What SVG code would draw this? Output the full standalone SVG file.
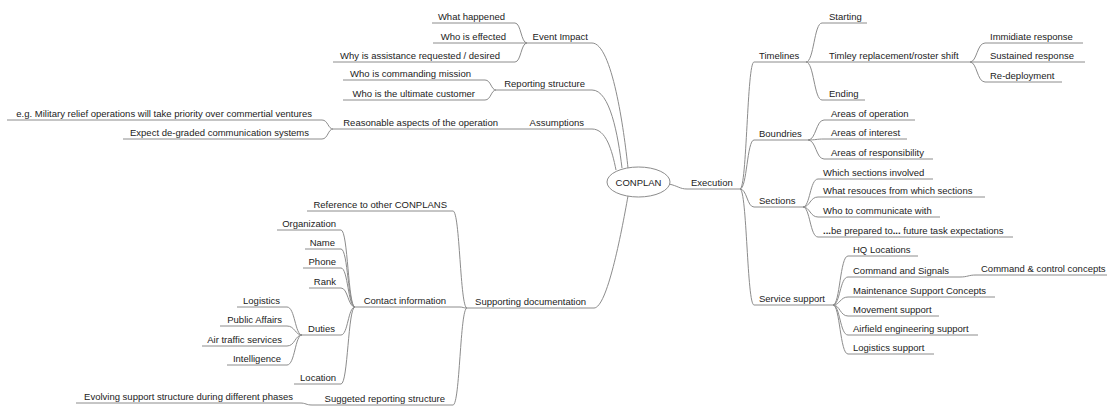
<svg xmlns="http://www.w3.org/2000/svg" width="1107" height="406" viewBox="0 0 1107 406">
  <style>
    .t { font-family: "Liberation Sans", Arial, sans-serif; font-size: 9.5px; fill: #222; }
    .r { text-anchor: end; }
    .u, .e { fill: none; stroke: #8c8c8c; stroke-width: 1; }
    .b { font-weight: bold; }
  </style>
  <rect width="1107" height="406" fill="#fff"/>

  <!-- connectors between nodes -->
  <g id="connectors" class="e">
    <!-- root -->
    <path d="M669,184 C678,186 680,189 687,189"/>
    <path d="M592,43 C612,43 624,130 628,168"/>
    <path d="M592,90 C610,90 618,135 622,168"/>
    <path d="M592,129 C606,129 612,150 616,170"/>
    <path d="M628,196 C621,235 607,308 594,308"/>
    <!-- Execution -->
    <path d="M740,189 C747,189 747,62 754,62"/>
    <path d="M740,189 C747,189 747,140 754,140"/>
    <path d="M740,189 C747,189 747,207 754,207"/>
    <path d="M740,189 C747,189 747,305 754,305"/>
    <!-- Timelines -->
    <path d="M806,62 C814,62 814,23 822,23"/>
    <path d="M806,62 L822,62"/>
    <path d="M806,62 C814,62 814,100 822,100"/>
    <!-- Timley replacement -->
    <path d="M970,62 C977,62 977,43 985,43"/>
    <path d="M970,62 L985,62"/>
    <path d="M970,62 C977,62 977,82 985,82"/>
    <!-- Boundries -->
    <path d="M808,140 C816,140 816,120 824,120"/>
    <path d="M808,140 C816,140 816,139 824,139"/>
    <path d="M808,140 C816,140 816,159 824,159"/>
    <!-- Sections -->
    <path d="M803,207 C810,207 810,179 818,179"/>
    <path d="M803,207 C810,207 810,197 818,197"/>
    <path d="M803,207 C810,207 810,217 818,217"/>
    <path d="M803,207 C810,207 810,237 818,237"/>
    <!-- Service support -->
    <path d="M833,305 C840,305 840,256 848,256"/>
    <path d="M833,305 C840,305 840,277 848,277"/>
    <path d="M833,305 C840,305 840,297 848,297"/>
    <path d="M833,305 C840,305 840,316 848,316"/>
    <path d="M833,305 C840,305 840,335 848,335"/>
    <path d="M833,305 C840,305 840,354 848,354"/>
    <path d="M960,277 C968,277 968,275 976,275"/>
    <!-- Event Impact -->
    <path d="M515,23 C521,23 521,43 527,43"/>
    <path d="M515,43 L527,43"/>
    <path d="M515,62 C521,62 521,43 527,43"/>
    <!-- Reporting structure -->
    <path d="M485,80 C491,80 491,90 496,90"/>
    <path d="M485,100 C491,100 491,90 496,90"/>
    <!-- Assumptions -->
    <path d="M505,129 L513,129"/>
    <path d="M322,120 C328,120 328,129 333,129"/>
    <path d="M322,139 C328,139 328,129 333,129"/>
    <!-- Supporting documentation -->
    <path d="M453,211 C460,211 460,308 467,308"/>
    <path d="M460,307 C463,307 463,308 467,308"/>
    <path d="M453,405 C460,405 460,308 467,308"/>
    <!-- Contact information -->
    <path d="M341,230 C348,230 348,307 355,307"/>
    <path d="M341,249 C348,249 348,307 355,307"/>
    <path d="M341,268 C348,268 348,307 355,307"/>
    <path d="M341,288 C348,288 348,307 355,307"/>
    <path d="M341,335 C348,335 348,307 355,307"/>
    <path d="M341,384 C348,384 348,307 355,307"/>
    <!-- Duties -->
    <path d="M287,307 C295,307 295,335 302,335"/>
    <path d="M287,326 C295,326 295,335 302,335"/>
    <path d="M287,346 C295,346 295,335 302,335"/>
    <path d="M287,365 C295,365 295,335 302,335"/>
    <!-- Suggeted reporting structure -->
    <path d="M300,403 C306,403 306,405 312,405"/>
  </g>

  <!-- root node -->
  <g id="conplan">
    <ellipse cx="638.5" cy="182" rx="31.5" ry="15" fill="#fff" stroke="#8c8c8c"/>
    <text class="t" x="638.5" y="185.5" text-anchor="middle">CONPLAN</text>
  </g>

  <!-- right side: Execution -->
  <g id="execution"><line class="u" x1="687" y1="189" x2="740" y2="189"/><text class="t" x="691" y="185.5">Execution</text></g>
  <g id="timelines"><line class="u" x1="754" y1="62" x2="806" y2="62"/><text class="t" x="759" y="58.5">Timelines</text></g>
  <g id="starting"><line class="u" x1="822" y1="23" x2="867" y2="23"/><text class="t" x="829" y="19.5">Starting</text></g>
  <g id="timley"><line class="u" x1="822" y1="62" x2="970" y2="62"/><text class="t" x="829" y="58.5">Timley replacement/roster shift</text></g>
  <g id="ending"><line class="u" x1="822" y1="100" x2="865" y2="100"/><text class="t" x="829" y="96.5">Ending</text></g>
  <g id="immidiate"><line class="u" x1="985" y1="43" x2="1083" y2="43"/><text class="t" x="990" y="39.5">Immidiate response</text></g>
  <g id="sustained"><line class="u" x1="985" y1="62" x2="1085" y2="62"/><text class="t" x="990" y="58.5">Sustained response</text></g>
  <g id="redeployment"><line class="u" x1="985" y1="82" x2="1062" y2="82"/><text class="t" x="990" y="78.5">Re-deployment</text></g>
  <g id="boundries"><line class="u" x1="754" y1="140" x2="808" y2="140"/><text class="t" x="759" y="136.5">Boundries</text></g>
  <g id="areas-operation"><line class="u" x1="824" y1="120" x2="915" y2="120"/><text class="t" x="831" y="116.5">Areas of operation</text></g>
  <g id="areas-interest"><line class="u" x1="824" y1="139" x2="907" y2="139"/><text class="t" x="831" y="135.5">Areas of interest</text></g>
  <g id="areas-responsibility"><line class="u" x1="824" y1="159" x2="933" y2="159"/><text class="t" x="831" y="155.5">Areas of responsibility</text></g>
  <g id="sections"><line class="u" x1="754" y1="207" x2="803" y2="207"/><text class="t" x="759" y="203.5">Sections</text></g>
  <g id="which-sections"><line class="u" x1="818" y1="179" x2="933" y2="179"/><text class="t" x="823" y="175.5">Which sections involved</text></g>
  <g id="what-resources"><line class="u" x1="818" y1="197" x2="985" y2="197"/><text class="t" x="823" y="193.5">What resouces from which sections</text></g>
  <g id="who-communicate"><line class="u" x1="818" y1="217" x2="940" y2="217"/><text class="t" x="823" y="213.5">Who to communicate with</text></g>
  <g id="be-prepared"><line class="u" x1="818" y1="237" x2="1013" y2="237"/><text class="t" x="823" y="233.5"><tspan class="b">...</tspan>be prepared to<tspan class="b">...</tspan> future task expectations</text></g>
  <g id="service-support"><line class="u" x1="754" y1="305" x2="833" y2="305"/><text class="t" x="759" y="301.5">Service support</text></g>
  <g id="hq-locations"><line class="u" x1="848" y1="256" x2="918" y2="256"/><text class="t" x="853" y="252.5">HQ Locations</text></g>
  <g id="command-signals"><line class="u" x1="848" y1="277" x2="960" y2="277"/><text class="t" x="853" y="273.5">Command and Signals</text></g>
  <g id="command-control"><line class="u" x1="976" y1="275" x2="1107" y2="275"/><text class="t" x="981" y="271.5">Command &amp; control concepts</text></g>
  <g id="maintenance"><line class="u" x1="848" y1="297" x2="995" y2="297"/><text class="t" x="853" y="293.5">Maintenance Support Concepts</text></g>
  <g id="movement"><line class="u" x1="848" y1="316" x2="939" y2="316"/><text class="t" x="853" y="312.5">Movement support</text></g>
  <g id="airfield"><line class="u" x1="848" y1="335" x2="978" y2="335"/><text class="t" x="853" y="331.5">Airfield engineering support</text></g>
  <g id="logistics-support"><line class="u" x1="848" y1="354" x2="934" y2="354"/><text class="t" x="853" y="350.5">Logistics support</text></g>

  <!-- left side -->
  <g id="event-impact"><line class="u" x1="527" y1="43" x2="592" y2="43"/><text class="t r" x="588" y="39.5">Event Impact</text></g>
  <g id="what-happened"><line class="u" x1="432" y1="23" x2="515" y2="23"/><text class="t r" x="505" y="19.5">What happened</text></g>
  <g id="who-effected"><line class="u" x1="433" y1="43" x2="515" y2="43"/><text class="t r" x="506" y="39.5">Who is effected</text></g>
  <g id="why-assistance"><line class="u" x1="333" y1="62" x2="515" y2="62"/><text class="t r" x="500" y="58.5">Why is assistance requested / desired</text></g>
  <g id="reporting-structure"><line class="u" x1="496" y1="90" x2="592" y2="90"/><text class="t r" x="585" y="86.5">Reporting structure</text></g>
  <g id="who-commanding"><line class="u" x1="343" y1="80" x2="485" y2="80"/><text class="t r" x="471" y="76.5">Who is commanding mission</text></g>
  <g id="who-customer"><line class="u" x1="343" y1="100" x2="485" y2="100"/><text class="t r" x="475" y="96.5">Who is the ultimate customer</text></g>
  <g id="assumptions"><line class="u" x1="513" y1="129" x2="592" y2="129"/><text class="t r" x="584" y="125.5">Assumptions</text></g>
  <g id="reasonable-aspects"><line class="u" x1="333" y1="129" x2="505" y2="129"/><text class="t r" x="498" y="125.5">Reasonable aspects of the operation</text></g>
  <g id="military-relief"><line class="u" x1="7" y1="120" x2="322" y2="120"/><text class="t r" x="312" y="116.5">e.g. Military relief operations will take priority over commertial ventures</text></g>
  <g id="degraded-comms"><line class="u" x1="123" y1="139" x2="322" y2="139"/><text class="t r" x="309" y="135.5">Expect de-graded communication systems</text></g>
  <g id="supporting-documentation"><line class="u" x1="467" y1="308" x2="594" y2="308"/><text class="t r" x="586" y="304.5">Supporting documentation</text></g>
  <g id="reference-conplans"><line class="u" x1="307" y1="211" x2="453" y2="211"/><text class="t r" x="447" y="207.5">Reference to other CONPLANS</text></g>
  <g id="contact-information"><line class="u" x1="355" y1="307" x2="460" y2="307"/><text class="t r" x="446" y="303.5">Contact information</text></g>
  <g id="suggeted-reporting"><line class="u" x1="312" y1="405" x2="453" y2="405"/><text class="t r" x="445" y="401.5">Suggeted reporting structure</text></g>
  <g id="evolving-support"><line class="u" x1="76" y1="403" x2="300" y2="403"/><text class="t r" x="293" y="399.5">Evolving support structure during different phases</text></g>
  <g id="organization"><line class="u" x1="277" y1="230" x2="341" y2="230"/><text class="t r" x="336" y="226.5">Organization</text></g>
  <g id="name"><line class="u" x1="305" y1="249" x2="341" y2="249"/><text class="t r" x="335" y="245.5">Name</text></g>
  <g id="phone"><line class="u" x1="303" y1="268" x2="341" y2="268"/><text class="t r" x="336" y="264.5">Phone</text></g>
  <g id="rank"><line class="u" x1="309" y1="288" x2="341" y2="288"/><text class="t r" x="336" y="284.5">Rank</text></g>
  <g id="duties"><line class="u" x1="302" y1="335" x2="341" y2="335"/><text class="t r" x="335" y="331.5">Duties</text></g>
  <g id="location"><line class="u" x1="294" y1="384" x2="341" y2="384"/><text class="t r" x="336" y="380.5">Location</text></g>
  <g id="logistics"><line class="u" x1="237" y1="307" x2="287" y2="307"/><text class="t r" x="280" y="303.5">Logistics</text></g>
  <g id="public-affairs"><line class="u" x1="220" y1="326" x2="287" y2="326"/><text class="t r" x="282" y="322.5">Public Affairs</text></g>
  <g id="air-traffic"><line class="u" x1="202" y1="346" x2="287" y2="346"/><text class="t r" x="282" y="342.5">Air traffic services</text></g>
  <g id="intelligence"><line class="u" x1="227" y1="365" x2="287" y2="365"/><text class="t r" x="281" y="361.5">Intelligence</text></g>
</svg>
